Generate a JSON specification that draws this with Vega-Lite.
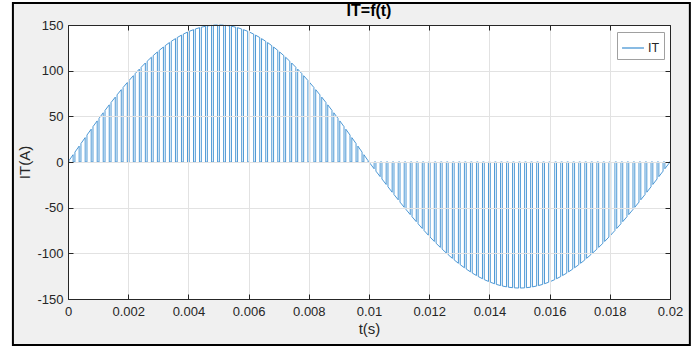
{
"$schema":"https://vega.github.io/schema/vega-lite/v6.json",
"width":602,"height":274,
"autosize":{"type":"none"},
"padding":{"left":68,"top":25,"right":24,"bottom":53},
"background":"#ffffff",
"title":{"text":"IT=f(t)","font":"Liberation Sans","fontSize":16,"fontWeight":"bold","color":"#000000","anchor":"middle","frame":"group","offset":6,"dy":23.5},
"datasets":{"it":[
{"t":0,"v":0},
{"t":0.00003,"v":0},{"t":0.00003,"v":1.4},{"t":0.00017,"v":8.0},{"t":0.00017,"v":0},
{"t":0.00023,"v":0},{"t":0.00023,"v":10.8},{"t":0.00037,"v":17.4},{"t":0.00037,"v":0},
{"t":0.00043,"v":0},{"t":0.00043,"v":20.2},{"t":0.00057,"v":26.7},{"t":0.00057,"v":0},
{"t":0.00063,"v":0},{"t":0.00063,"v":29.5},{"t":0.00077,"v":35.9},{"t":0.00077,"v":0},
{"t":0.00083,"v":0},{"t":0.00083,"v":38.7},{"t":0.00097,"v":45.0},{"t":0.00097,"v":0},
{"t":0.00103,"v":0},{"t":0.00103,"v":47.7},{"t":0.00117,"v":53.9},{"t":0.00117,"v":0},
{"t":0.00123,"v":0},{"t":0.00123,"v":56.5},{"t":0.00137,"v":62.6},{"t":0.00137,"v":0},
{"t":0.00143,"v":0},{"t":0.00143,"v":65.1},{"t":0.00157,"v":71.0},{"t":0.00157,"v":0},
{"t":0.00163,"v":0},{"t":0.00163,"v":73.5},{"t":0.00177,"v":79.2},{"t":0.00177,"v":0},
{"t":0.00183,"v":0},{"t":0.00183,"v":81.6},{"t":0.00197,"v":87.0},{"t":0.00197,"v":0},
{"t":0.00203,"v":0},{"t":0.00203,"v":89.3},{"t":0.00217,"v":94.5},{"t":0.00217,"v":0},
{"t":0.00223,"v":0},{"t":0.00223,"v":96.7},{"t":0.00237,"v":101.7},{"t":0.00237,"v":0},
{"t":0.00243,"v":0},{"t":0.00243,"v":103.7},{"t":0.00257,"v":108.4},{"t":0.00257,"v":0},
{"t":0.00263,"v":0},{"t":0.00263,"v":110.3},{"t":0.00277,"v":114.7},{"t":0.00277,"v":0},
{"t":0.00283,"v":0},{"t":0.00283,"v":116.5},{"t":0.00297,"v":120.5},{"t":0.00297,"v":0},
{"t":0.00303,"v":0},{"t":0.00303,"v":122.2},{"t":0.00317,"v":125.9},{"t":0.00317,"v":0},
{"t":0.00323,"v":0},{"t":0.00323,"v":127.4},{"t":0.00337,"v":130.8},{"t":0.00337,"v":0},
{"t":0.00343,"v":0},{"t":0.00343,"v":132.1},{"t":0.00357,"v":135.1},{"t":0.00357,"v":0},
{"t":0.00363,"v":0},{"t":0.00363,"v":136.3},{"t":0.00377,"v":138.9},{"t":0.00377,"v":0},
{"t":0.00383,"v":0},{"t":0.00383,"v":140.0},{"t":0.00397,"v":142.2},{"t":0.00397,"v":0},
{"t":0.00403,"v":0},{"t":0.00403,"v":143.1},{"t":0.00417,"v":144.9},{"t":0.00417,"v":0},
{"t":0.00423,"v":0},{"t":0.00423,"v":145.6},{"t":0.00437,"v":147.1},{"t":0.00437,"v":0},
{"t":0.00443,"v":0},{"t":0.00443,"v":147.6},{"t":0.00457,"v":148.6},{"t":0.00457,"v":0},
{"t":0.00463,"v":0},{"t":0.00463,"v":149.0},{"t":0.00477,"v":149.6},{"t":0.00477,"v":0},
{"t":0.00483,"v":0},{"t":0.00483,"v":149.8},{"t":0.00497,"v":150.0},{"t":0.00497,"v":0},
{"t":0.00503,"v":0},{"t":0.00503,"v":150.0},{"t":0.00517,"v":149.8},{"t":0.00517,"v":0},
{"t":0.00523,"v":0},{"t":0.00523,"v":149.6},{"t":0.00537,"v":149.0},{"t":0.00537,"v":0},
{"t":0.00543,"v":0},{"t":0.00543,"v":148.6},{"t":0.00557,"v":147.6},{"t":0.00557,"v":0},
{"t":0.00563,"v":0},{"t":0.00563,"v":147.1},{"t":0.00577,"v":145.6},{"t":0.00577,"v":0},
{"t":0.00583,"v":0},{"t":0.00583,"v":144.9},{"t":0.00597,"v":143.1},{"t":0.00597,"v":0},
{"t":0.00603,"v":0},{"t":0.00603,"v":142.2},{"t":0.00617,"v":140.0},{"t":0.00617,"v":0},
{"t":0.00623,"v":0},{"t":0.00623,"v":138.9},{"t":0.00637,"v":136.3},{"t":0.00637,"v":0},
{"t":0.00643,"v":0},{"t":0.00643,"v":135.1},{"t":0.00657,"v":132.1},{"t":0.00657,"v":0},
{"t":0.00663,"v":0},{"t":0.00663,"v":130.8},{"t":0.00677,"v":127.4},{"t":0.00677,"v":0},
{"t":0.00683,"v":0},{"t":0.00683,"v":125.9},{"t":0.00697,"v":122.2},{"t":0.00697,"v":0},
{"t":0.00703,"v":0},{"t":0.00703,"v":120.5},{"t":0.00717,"v":116.5},{"t":0.00717,"v":0},
{"t":0.00723,"v":0},{"t":0.00723,"v":114.7},{"t":0.00737,"v":110.3},{"t":0.00737,"v":0},
{"t":0.00743,"v":0},{"t":0.00743,"v":108.4},{"t":0.00757,"v":103.7},{"t":0.00757,"v":0},
{"t":0.00763,"v":0},{"t":0.00763,"v":101.7},{"t":0.00777,"v":96.7},{"t":0.00777,"v":0},
{"t":0.00783,"v":0},{"t":0.00783,"v":94.5},{"t":0.00797,"v":89.3},{"t":0.00797,"v":0},
{"t":0.00803,"v":0},{"t":0.00803,"v":87.0},{"t":0.00817,"v":81.6},{"t":0.00817,"v":0},
{"t":0.00823,"v":0},{"t":0.00823,"v":79.2},{"t":0.00837,"v":73.5},{"t":0.00837,"v":0},
{"t":0.00843,"v":0},{"t":0.00843,"v":71.0},{"t":0.00857,"v":65.1},{"t":0.00857,"v":0},
{"t":0.00863,"v":0},{"t":0.00863,"v":62.6},{"t":0.00877,"v":56.5},{"t":0.00877,"v":0},
{"t":0.00883,"v":0},{"t":0.00883,"v":53.9},{"t":0.00897,"v":47.7},{"t":0.00897,"v":0},
{"t":0.00903,"v":0},{"t":0.00903,"v":45.0},{"t":0.00917,"v":38.7},{"t":0.00917,"v":0},
{"t":0.00923,"v":0},{"t":0.00923,"v":35.9},{"t":0.00937,"v":29.5},{"t":0.00937,"v":0},
{"t":0.00943,"v":0},{"t":0.00943,"v":26.7},{"t":0.00957,"v":20.2},{"t":0.00957,"v":0},
{"t":0.00963,"v":0},{"t":0.00963,"v":17.4},{"t":0.00977,"v":10.8},{"t":0.00977,"v":0},
{"t":0.00983,"v":0},{"t":0.00983,"v":8.0},{"t":0.00997,"v":1.4},{"t":0.00997,"v":0},
{"t":0.01003,"v":0},{"t":0.01003,"v":-1.3},{"t":0.01017,"v":-7.4},{"t":0.01017,"v":0},
{"t":0.01023,"v":0},{"t":0.01023,"v":-10.0},{"t":0.01037,"v":-16.0},{"t":0.01037,"v":0},
{"t":0.01043,"v":0},{"t":0.01043,"v":-18.6},{"t":0.01057,"v":-24.6},{"t":0.01057,"v":0},
{"t":0.01063,"v":0},{"t":0.01063,"v":-27.1},{"t":0.01077,"v":-33.1},{"t":0.01077,"v":0},
{"t":0.01083,"v":0},{"t":0.01083,"v":-35.6},{"t":0.01097,"v":-41.4},{"t":0.01097,"v":0},
{"t":0.01103,"v":0},{"t":0.01103,"v":-43.9},{"t":0.01117,"v":-49.6},{"t":0.01117,"v":0},
{"t":0.01123,"v":0},{"t":0.01123,"v":-52.0},{"t":0.01137,"v":-57.6},{"t":0.01137,"v":0},
{"t":0.01143,"v":0},{"t":0.01143,"v":-59.9},{"t":0.01157,"v":-65.3},{"t":0.01157,"v":0},
{"t":0.01163,"v":0},{"t":0.01163,"v":-67.6},{"t":0.01177,"v":-72.8},{"t":0.01177,"v":0},
{"t":0.01183,"v":0},{"t":0.01183,"v":-75.0},{"t":0.01197,"v":-80.1},{"t":0.01197,"v":0},
{"t":0.01203,"v":0},{"t":0.01203,"v":-82.2},{"t":0.01217,"v":-87.0},{"t":0.01217,"v":0},
{"t":0.01223,"v":0},{"t":0.01223,"v":-89.0},{"t":0.01237,"v":-93.5},{"t":0.01237,"v":0},
{"t":0.01243,"v":0},{"t":0.01243,"v":-95.4},{"t":0.01257,"v":-99.7},{"t":0.01257,"v":0},
{"t":0.01263,"v":0},{"t":0.01263,"v":-101.5},{"t":0.01277,"v":-105.5},{"t":0.01277,"v":0},
{"t":0.01283,"v":0},{"t":0.01283,"v":-107.2},{"t":0.01297,"v":-110.9},{"t":0.01297,"v":0},
{"t":0.01303,"v":0},{"t":0.01303,"v":-112.4},{"t":0.01317,"v":-115.8},{"t":0.01317,"v":0},
{"t":0.01323,"v":0},{"t":0.01323,"v":-117.2},{"t":0.01337,"v":-120.3},{"t":0.01337,"v":0},
{"t":0.01343,"v":0},{"t":0.01343,"v":-121.6},{"t":0.01357,"v":-124.3},{"t":0.01357,"v":0},
{"t":0.01363,"v":0},{"t":0.01363,"v":-125.4},{"t":0.01377,"v":-127.8},{"t":0.01377,"v":0},
{"t":0.01383,"v":0},{"t":0.01383,"v":-128.8},{"t":0.01397,"v":-130.8},{"t":0.01397,"v":0},
{"t":0.01403,"v":0},{"t":0.01403,"v":-131.6},{"t":0.01417,"v":-133.3},{"t":0.01417,"v":0},
{"t":0.01423,"v":0},{"t":0.01423,"v":-134.0},{"t":0.01437,"v":-135.3},{"t":0.01437,"v":0},
{"t":0.01443,"v":0},{"t":0.01443,"v":-135.8},{"t":0.01457,"v":-136.7},{"t":0.01457,"v":0},
{"t":0.01463,"v":0},{"t":0.01463,"v":-137.1},{"t":0.01477,"v":-137.6},{"t":0.01477,"v":0},
{"t":0.01483,"v":0},{"t":0.01483,"v":-137.8},{"t":0.01497,"v":-138.0},{"t":0.01497,"v":0},
{"t":0.01503,"v":0},{"t":0.01503,"v":-138.0},{"t":0.01517,"v":-137.8},{"t":0.01517,"v":0},
{"t":0.01523,"v":0},{"t":0.01523,"v":-137.6},{"t":0.01537,"v":-137.1},{"t":0.01537,"v":0},
{"t":0.01543,"v":0},{"t":0.01543,"v":-136.7},{"t":0.01557,"v":-135.8},{"t":0.01557,"v":0},
{"t":0.01563,"v":0},{"t":0.01563,"v":-135.3},{"t":0.01577,"v":-134.0},{"t":0.01577,"v":0},
{"t":0.01583,"v":0},{"t":0.01583,"v":-133.3},{"t":0.01597,"v":-131.6},{"t":0.01597,"v":0},
{"t":0.01603,"v":0},{"t":0.01603,"v":-130.8},{"t":0.01617,"v":-128.8},{"t":0.01617,"v":0},
{"t":0.01623,"v":0},{"t":0.01623,"v":-127.8},{"t":0.01637,"v":-125.4},{"t":0.01637,"v":0},
{"t":0.01643,"v":0},{"t":0.01643,"v":-124.3},{"t":0.01657,"v":-121.6},{"t":0.01657,"v":0},
{"t":0.01663,"v":0},{"t":0.01663,"v":-120.3},{"t":0.01677,"v":-117.2},{"t":0.01677,"v":0},
{"t":0.01683,"v":0},{"t":0.01683,"v":-115.8},{"t":0.01697,"v":-112.4},{"t":0.01697,"v":0},
{"t":0.01703,"v":0},{"t":0.01703,"v":-110.9},{"t":0.01717,"v":-107.2},{"t":0.01717,"v":0},
{"t":0.01723,"v":0},{"t":0.01723,"v":-105.5},{"t":0.01737,"v":-101.5},{"t":0.01737,"v":0},
{"t":0.01743,"v":0},{"t":0.01743,"v":-99.7},{"t":0.01757,"v":-95.4},{"t":0.01757,"v":0},
{"t":0.01763,"v":0},{"t":0.01763,"v":-93.5},{"t":0.01777,"v":-89.0},{"t":0.01777,"v":0},
{"t":0.01783,"v":0},{"t":0.01783,"v":-87.0},{"t":0.01797,"v":-82.2},{"t":0.01797,"v":0},
{"t":0.01803,"v":0},{"t":0.01803,"v":-80.1},{"t":0.01817,"v":-75.0},{"t":0.01817,"v":0},
{"t":0.01823,"v":0},{"t":0.01823,"v":-72.8},{"t":0.01837,"v":-67.6},{"t":0.01837,"v":0},
{"t":0.01843,"v":0},{"t":0.01843,"v":-65.3},{"t":0.01857,"v":-59.9},{"t":0.01857,"v":0},
{"t":0.01863,"v":0},{"t":0.01863,"v":-57.6},{"t":0.01877,"v":-52.0},{"t":0.01877,"v":0},
{"t":0.01883,"v":0},{"t":0.01883,"v":-49.6},{"t":0.01897,"v":-43.9},{"t":0.01897,"v":0},
{"t":0.01903,"v":0},{"t":0.01903,"v":-41.4},{"t":0.01917,"v":-35.6},{"t":0.01917,"v":0},
{"t":0.01923,"v":0},{"t":0.01923,"v":-33.1},{"t":0.01937,"v":-27.1},{"t":0.01937,"v":0},
{"t":0.01943,"v":0},{"t":0.01943,"v":-24.6},{"t":0.01957,"v":-18.6},{"t":0.01957,"v":0},
{"t":0.01963,"v":0},{"t":0.01963,"v":-16.0},{"t":0.01977,"v":-10.0},{"t":0.01977,"v":0},
{"t":0.01983,"v":0},{"t":0.01983,"v":-7.4},{"t":0.01997,"v":-1.3},{"t":0.01997,"v":0},
{"t":0.02,"v":0}
]},
"data":{"name":"it"},
"resolve":{"axis":{"x":"independent","y":"independent"}},
"layer":[
 {"data":{"values":[{}]},
  "mark":{"type":"rect","fill":"#f0f0f0","stroke":"#000000","strokeWidth":2},
  "encoding":{
   "x":{"datum":-0.00183,"type":"quantitative","scale":{"domain":[0,0.02],"nice":false,"zero":false},"axis":null},
   "x2":{"datum":0.02066},
   "y":{"datum":174.1,"type":"quantitative","scale":{"domain":[-150,150],"nice":false,"zero":false},"axis":null},
   "y2":{"datum":-200.4}}},
 {"data":{"values":[{}]},
  "mark":{"type":"rect","fill":"#ffffff"},
  "encoding":{
   "x":{"datum":0,"type":"quantitative","axis":{"orient":"top","title":null,"labels":false,"grid":false,"values":[0,0.002,0.004,0.006,0.008,0.01,0.012,0.014,0.016,0.018,0.02],"tickSize":-5,"tickColor":"#262626","domainColor":"#262626","zindex":1}},
   "x2":{"datum":0.02},
   "y":{"datum":-150,"type":"quantitative","axis":{"orient":"right","title":null,"labels":false,"grid":false,"values":[-150,-100,-50,0,50,100,150],"tickSize":-5,"tickColor":"#262626","domainColor":"#262626","zindex":1}},
   "y2":{"datum":150}}},
 {"mark":{"type":"line","strokeWidth":0.9},
  "encoding":{
   "x":{"field":"t","type":"quantitative","scale":{"domain":[0,0.02],"nice":false,"zero":false},
        "axis":{"orient":"bottom","title":"t(s)","values":[0,0.002,0.004,0.006,0.008,0.01,0.012,0.014,0.016,0.018,0.02],"format":"~f","grid":true,"gridColor":"#e2e2e2","tickSize":-5,"labelPadding":11,"labelFlush":false,"labelOverlap":false,"titlePadding":3,"zindex":1}},
   "y":{"field":"v","type":"quantitative","scale":{"domain":[-150,150],"nice":false,"zero":false},
        "axis":{"orient":"left","title":"IT(A)","values":[-150,-100,-50,0,50,100,150],"grid":true,"gridColor":"#e2e2e2","tickSize":-5,"labelPadding":10,"labelOverlap":false,"titlePadding":4,"zindex":1}},
   "color":{"datum":"IT","type":"nominal","scale":{"range":["#3a8dd0"]},
        "legend":{"title":null,"orient":"none","legendX":549,"legendY":7,"symbolType":"stroke","symbolSize":480,"symbolStrokeWidth":1.2,"labelFontSize":12.5,"labelColor":"#262626","padding":4,"strokeColor":"#a0a0a0","fillColor":"#ffffff","labelOffset":3}}}}
],
"config":{
 "font":"Liberation Sans",
 "view":{"stroke":null},
 "locale":{"number":{"decimal":".","thousands":",","grouping":[3],"currency":["$",""],"minus":"-"}},
 "axis":{"labelFont":"Liberation Sans","labelFontSize":13,"labelColor":"#262626","titleFont":"Liberation Sans","titleFontSize":15,"titleFontWeight":"normal","titleColor":"#262626","domainColor":"#262626","tickColor":"#262626","domainWidth":1,"tickWidth":1},
 "legend":{"labelFont":"Liberation Sans"}
}
}
